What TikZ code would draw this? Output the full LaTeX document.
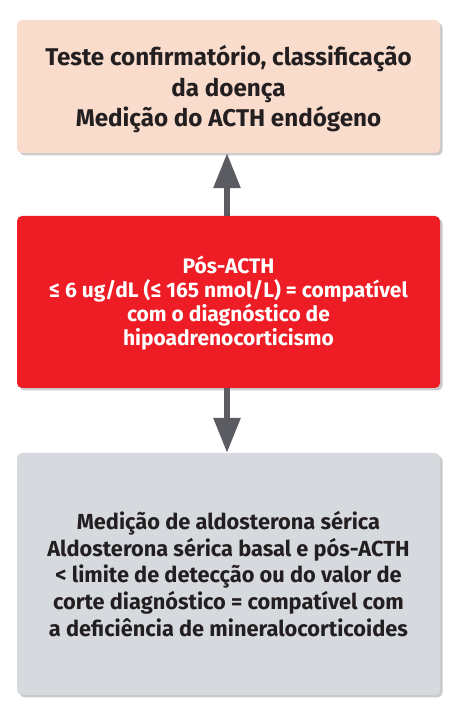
\documentclass[tikz,border=0pt]{standalone}
\usepackage{fontspec}
\setmainfont{Fira Sans}
\usetikzlibrary{arrows.meta,shadows}
\definecolor{peach}{HTML}{FADCCD}
\definecolor{redbox}{HTML}{EE1C25}
\definecolor{greybox}{HTML}{D6DADF}
\definecolor{arrowgrey}{HTML}{5B5B62}
\definecolor{txt}{HTML}{231F20}
\tikzset{
  box/.style={rectangle, rounded corners=5pt, minimum width=423pt, align=center,
    font=\bfseries, inner sep=0pt,
    drop shadow={shadow xshift=2.5pt, shadow yshift=-2.5pt, opacity=0.35, fill=black!60}},
  boxtext/.style={align=center, inner sep=0pt},
  conn/.style={line width=6pt, draw=arrowgrey, -{Triangle[width=26pt,length=35pt]}, shorten >=0pt}
}
\begin{document}
\begin{tikzpicture}
\useasboundingbox (0,0) rectangle (465pt,728pt);
\node[box, fill=peach, minimum height=133pt] (top) at (228.5pt,641.5pt) {};
\node[boxtext, text=txt, font=\bfseries\fontsize{24.2}{30.5}\selectfont, yshift=-3pt] (toptext) at (top.center)
  {Teste confirmatório, classificação\\da doença\\Medição do ACTH endógeno};
\node[box, fill=redbox, minimum height=172pt] (mid) at (228.5pt,426pt) {};
\node[boxtext, text=white, font=\bfseries\fontsize{21}{24}\selectfont, yshift=-1pt] (midtext) at (mid.center)
  {Pós-ACTH\\≤ 6 ug/dL (≤ 165 nmol/L) = compatível\\com o diagnóstico de\\hipoadrenocorticismo};
\node[box, fill=greybox, minimum height=242pt] (bot) at (228.5pt,154pt) {};
\node[boxtext, text=txt, font=\bfseries\fontsize{21.8}{26.7}\selectfont] (bottext) at (bot.center)
  {Medição de aldosterona sérica\\Aldosterona sérica basal e pós-ACTH\\< limite de detecção ou do valor de\\corte diagnóstico = compatível com\\a deficiência de mineralocorticoides};
\coordinate (a1) at ([xshift=-1.5pt]mid.north);
\coordinate (a2) at ([xshift=-1.5pt]top.south);
\coordinate (b1) at ([xshift=-1.5pt]mid.south);
\coordinate (b2) at ([xshift=-1.5pt]bot.north);
\draw[conn] (a1) -- (a2);
\draw[conn] (b1) -- (b2);
\end{tikzpicture}
\end{document}
